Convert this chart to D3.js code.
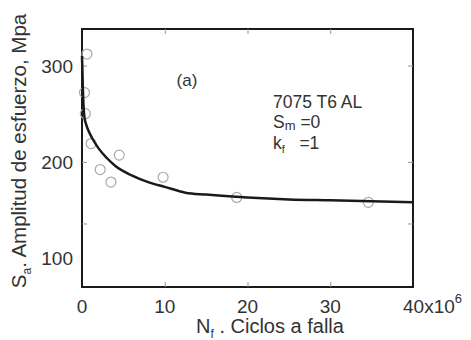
<!DOCTYPE html>
<html>
<head>
<meta charset="utf-8">
<script src="https://cdn.jsdelivr.net/npm/d3@7"></script>
<style>
  body { margin: 0; background: #fff; }
  text { font-family: "Liberation Sans", Arial, sans-serif; fill: #333; white-space: pre; }
</style>
</head>
<body>
<svg id="canvas" width="471" height="340"></svg>
<script>
"use strict"

// Fitted S-N curve (N in millions of cycles, S in MPa)
let curveN = [0, 0.05, 0.1, 0.2, 0.3, 0.5, 0.8, 1.2, 2, 3, 4, 6, 8, 10, 12.5, 15, 20, 25, 30, 35, 40];
let curveS = [310, 295, 278, 256, 246, 239, 232, 225, 214, 204, 196, 186, 179, 174, 168, 166, 163, 161, 160, 159, 158];

// Test points (open circles)
let pointN = [0.6, 0.3, 0.4, 1.1, 2.2, 3.5, 4.5, 9.8, 18.7, 34.6];
let pointS = [312, 272, 250, 219, 192, 179, 207, 184, 163, 158];

let xTicks = [0, 10, 20, 30];
let yTicks = [100, 200, 300];
let yMinor = [136, 200, 300];

let drawing = d3.select("#canvas");

let x = d3.scaleLinear().domain([0, 40]).range([82, 413]);
let y = d3.scaleLinear().domain([70, 338]).range([287, 29]);

/* frame */
drawing.append("rect")
    .attr("x", 82).attr("y", 29)
    .attr("width", 331).attr("height", 258)
    .attr("fill", "none")
    .attr("stroke", "#1a1a1a")
    .attr("stroke-width", 2);

/* small inner ticks, bottom and top */
drawing.append("g")
    .attr("transform", "translate(0,287)")
    .call(d3.axisTop(x).tickValues([10, 20, 30]).tickSize(5).tickFormat(""))
    .call(g => g.select(".domain").remove())
    .selectAll("line").attr("stroke", "#999");

drawing.append("g")
    .attr("transform", "translate(0,29)")
    .call(d3.axisBottom(x).tickValues([10, 20, 30]).tickSize(5).tickFormat(""))
    .call(g => g.select(".domain").remove())
    .selectAll("line").attr("stroke", "#999");

/* small inner ticks, left and right */
drawing.append("g")
    .attr("transform", "translate(82,0)")
    .call(d3.axisRight(y).tickValues(yMinor).tickSize(5).tickFormat(""))
    .call(g => g.select(".domain").remove())
    .selectAll("line").attr("stroke", "#999");

drawing.append("g")
    .attr("transform", "translate(413,0)")
    .call(d3.axisLeft(y).tickValues(yMinor).tickSize(5).tickFormat(""))
    .call(g => g.select(".domain").remove())
    .selectAll("line").attr("stroke", "#999");

/* x tick labels */
drawing.selectAll(".xlab")
    .data(xTicks)
    .enter().append("text")
    .attr("x", d => x(d))
    .attr("y", 313)
    .attr("text-anchor", "middle")
    .attr("font-size", 19)
    .text(d => d);

let last = drawing.append("text")
    .attr("x", 403).attr("y", 313)
    .attr("font-size", 19);
last.append("tspan").text("40x10");
last.append("tspan").attr("font-size", 13).attr("dy", -10).text("6");

/* y tick labels */
drawing.selectAll(".ylab")
    .data(yTicks)
    .enter().append("text")
    .attr("x", 73)
    .attr("y", d => y(d) + 7)
    .attr("text-anchor", "end")
    .attr("font-size", 19)
    .text(d => d);

/* x axis title */
let xt = drawing.append("text")
    .attr("x", 270).attr("y", 333)
    .attr("text-anchor", "middle")
    .attr("font-size", 20);
xt.append("tspan").text("N");
xt.append("tspan").attr("font-size", 12).attr("dy", 5).text("f");
xt.append("tspan").attr("dy", -5).text(" . Ciclos a falla");

/* y axis title */
let yt = drawing.append("text")
    .attr("transform", "translate(26,151) rotate(-90)")
    .attr("text-anchor", "middle")
    .attr("font-size", 20.5);
yt.append("tspan").text("S");
yt.append("tspan").attr("font-size", 12).attr("dy", 5).text("a");
yt.append("tspan").attr("dy", -5).text(". Amplitud de esfuerzo, Mpa");

/* data circles */
drawing.selectAll(".pt")
    .data(pointN)
    .enter().append("circle")
    .attr("cx", (d, i) => x(d))
    .attr("cy", (d, i) => y(pointS[i]))
    .attr("r", 5)
    .attr("fill", "none")
    .attr("stroke", "#aaa")
    .attr("stroke-width", 1.2);

/* fitted curve */
let line = d3.line()
    .x(d => x(d[0]))
    .y(d => y(d[1]))
    .curve(d3.curveMonotoneX);

drawing.append("path")
    .datum(d3.zip(curveN, curveS))
    .attr("d", line)
    .attr("fill", "none")
    .attr("stroke", "#1a1a1a")
    .attr("stroke-width", 2.5);

/* annotations */
drawing.append("text")
    .attr("x", 187).attr("y", 86)
    .attr("text-anchor", "middle")
    .attr("font-size", 17)
    .text("(a)");

drawing.append("text")
    .attr("x", 273).attr("y", 108)
    .attr("font-size", 17.5)
    .text("7075 T6 AL");

let sm = drawing.append("text")
    .attr("x", 273).attr("y", 128)
    .attr("font-size", 17.5);
sm.append("tspan").text("S");
sm.append("tspan").attr("font-size", 13).attr("dy", 2).text("m");
sm.append("tspan").attr("dy", -2).text(" =0");

let kf = drawing.append("text")
    .attr("x", 273).attr("y", 149)
    .attr("font-size", 17.5);
kf.append("tspan").text("k");
kf.append("tspan").attr("font-size", 11).attr("dy", 4).text("f");
kf.append("tspan").attr("dy", -4).text("   =1");
</script>
</body>
</html>
